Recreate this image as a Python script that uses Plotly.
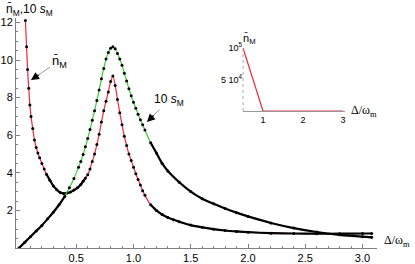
import numpy as np
import plotly.graph_objects as go

# ---------------- data ----------------
delta_n = [0.056, 0.066, 0.075, 0.085, 0.095, 0.105, 0.12, 0.135, 0.15, 0.165,
           0.18, 0.20, 0.22, 0.24, 0.27, 0.30, 0.33, 0.36, 0.39, 0.42,
           0.45, 0.48, 0.51, 0.54, 0.56, 0.58, 0.60, 0.62, 0.64, 0.66,
           0.68, 0.70, 0.72, 0.74, 0.76, 0.78, 0.80, 0.82, 0.84, 0.86,
           0.88, 0.90, 0.92, 0.94, 0.96, 0.98, 1.00, 1.02, 1.04, 1.06,
           1.08, 1.10, 1.15, 1.20, 1.25, 1.30, 1.35, 1.40, 1.50, 1.60,
           1.70, 1.80, 1.90, 2.00, 2.20, 2.40, 2.60, 2.80, 3.00, 3.08]
n_M = [12.1, 10.7, 9.5, 8.5, 7.6, 7.0, 6.35, 5.75, 5.35, 5.05,
       4.8, 4.5, 4.2, 3.92, 3.6, 3.3, 3.1, 2.95, 2.9, 2.92,
       2.98, 3.08, 3.2, 3.38, 3.55, 3.72, 3.9, 4.2, 4.6, 5.0,
       5.5, 6.05, 6.7, 7.3, 7.8, 8.3, 8.85, 9.15, 8.65, 7.9,
       7.2, 6.55, 5.95, 5.45, 5.0, 4.65, 4.3, 3.95, 3.65, 3.35,
       3.05, 2.8, 2.3, 2.0, 1.78, 1.62, 1.5, 1.4, 1.22, 1.1,
       1.0, 0.93, 0.88, 0.84, 0.79, 0.77, 0.76, 0.76, 0.77, 0.77]

delta_s = [0.0, 0.05, 0.10, 0.15, 0.20, 0.25, 0.30, 0.35, 0.40, 0.44,
           0.48, 0.52, 0.54, 0.56, 0.58, 0.60, 0.62, 0.64, 0.66, 0.68,
           0.70, 0.72, 0.74, 0.76, 0.78, 0.80, 0.82, 0.84, 0.86, 0.88,
           0.90, 0.92, 0.94, 0.96, 0.98, 1.00, 1.02, 1.04, 1.06, 1.08,
           1.10, 1.15, 1.20, 1.25, 1.30, 1.40, 1.50, 1.60, 1.70, 1.80,
           1.90, 2.00, 2.20, 2.40, 2.60, 2.80, 3.00, 3.08]
s10_M = [0.0, 0.3, 0.6, 0.9, 1.2, 1.55, 1.9, 2.3, 2.75, 3.2,
         3.7, 4.3, 4.6, 4.98, 5.38, 5.82, 6.3, 6.8, 7.3, 7.85,
         8.4, 9.0, 9.55, 10.05, 10.4, 10.62, 10.7, 10.6, 10.35, 10.05,
         9.72, 9.3, 8.88, 8.47, 8.1, 7.75, 7.43, 7.12, 6.82, 6.55,
         6.27, 5.6, 5.05, 4.5, 4.1, 3.5, 3.0, 2.62, 2.35, 2.1,
         1.88, 1.68, 1.33, 1.06, 0.85, 0.7, 0.6, 0.57]

# inset
delta_inset = [0.5, 1.0, 3.0]
n_inset = [100000, 0, 0]

x_ticks = [0.5, 1.0, 1.5, 2.0, 2.5, 3.0]
x_ticklabels = ["0.5", "1.0", "1.5", "2.0", "2.5", "3.0"]
y_ticks = [2, 4, 6, 8, 10, 12]
y_ticklabels = ["2", "4", "6", "8", "10", "12"]
inset_xticks = [1, 2, 3]
inset_yticks = [50000, 100000]
inset_yticklabels = ["5 10<sup>4</sup>", "10<sup>5</sup>"]

# ---------------- figure ----------------
W, H = 415, 264
L, R, T, B = 16, 38, 18, 16
PW, PH = W - L - R, H - T - B


def px_x(p):
    return (p - L) / PW


def px_y(p):
    return (H - B - p) / PH


RED = "#f0283c"
GREEN = "#3ccc3c"
AXC = "#808080"

fig = go.Figure()


def add_series(xs, ys, color, dense_mask):
    xs = np.asarray(xs)
    ys = np.asarray(ys, dtype=float)
    fig.add_trace(go.Scatter(x=xs, y=ys, mode="lines",
                             line=dict(color=color, width=1.2, shape="spline", smoothing=0.7),
                             hoverinfo="skip"))
    yb = [v if m else None for v, m in zip(ys, dense_mask)]
    fig.add_trace(go.Scatter(x=xs, y=yb, mode="lines", connectgaps=False,
                             line=dict(color="black", width=2.2, shape="spline", smoothing=0.7),
                             hoverinfo="skip"))
    fig.add_trace(go.Scatter(x=xs, y=ys, mode="markers",
                             marker=dict(color="black", size=3, symbol="circle"),
                             hoverinfo="skip"))


dn = np.asarray(delta_n)
ds = np.asarray(delta_s)
add_series(delta_n, n_M, RED, ((dn >= 0.24) & (dn <= 0.58)) | (dn >= 1.12))
add_series(delta_s, s10_M, GREEN, (ds <= 0.42) | (ds >= 1.15))

fig.add_trace(go.Scatter(x=delta_inset, y=n_inset, mode="lines",
                         line=dict(color=RED, width=1.2),
                         xaxis="x2", yaxis="y2", hoverinfo="skip"))

tickfont = dict(family="Liberation Sans", size=11, color="black")
x0 = 19.0
xs_per = 114.5
fig.update_layout(
    width=W, height=H,
    margin=dict(l=L, r=R, t=T, b=B, autoexpand=False),
    paper_bgcolor="white", plot_bgcolor="white",
    showlegend=False,
    xaxis=dict(range=[(L - x0) / xs_per, (W - R - x0) / xs_per], automargin=False,
               showline=True, linecolor=AXC, linewidth=1,
               ticks="inside", ticklen=4, tickcolor=AXC, tickwidth=1,
               tickvals=x_ticks, ticktext=x_ticklabels, tickfont=tickfont,
               minor=dict(ticks="inside", ticklen=2, tickcolor=AXC,
                          tickmode="array", tickvals=[round(0.1 * i, 2) for i in range(1, 31)]),
               showgrid=False, zeroline=False),
    yaxis=dict(range=[0, (H - B - T) / 18.8], automargin=False,
               showline=True, linecolor=AXC, linewidth=1,
               ticks="inside", ticklen=4, tickcolor=AXC, tickwidth=1,
               tickvals=y_ticks, ticktext=y_ticklabels, tickfont=tickfont,
               minor=dict(ticks="inside", ticklen=2, tickcolor=AXC,
                          tickmode="array", tickvals=[0.5 * i for i in range(1, 25)]),
               showgrid=False, zeroline=False),
    xaxis2=dict(domain=[px_x(243), px_x(345)], range=[0.5, 3.05], anchor="y2", automargin=False,
                showline=True, linecolor="#999999", linewidth=1, ticks="",
                tickvals=inset_xticks, tickfont=dict(family="Liberation Sans", size=9, color="black"),
                showgrid=False, zeroline=False),
    yaxis2=dict(domain=[px_y(111), px_y(46)], range=[0, 103200], anchor="x2", automargin=False,
                showline=False, ticks="",
                tickvals=inset_yticks, ticktext=inset_yticklabels,
                tickfont=dict(family="Liberation Sans", size=9, color="black"),
                showgrid=False, zeroline=False),
    shapes=[dict(type="line", xref="x2 domain", yref="y2 domain", x0=0, x1=0, y0=0, y1=1,
                 line=dict(color="#aaaaaa", width=1, dash="dot"))],
)

ann = []
# axis titles
ann.append(dict(xref="paper", yref="paper", x=px_x(4), y=px_y(10), xanchor="left", yanchor="middle",
                text="n\u0304<sub>M</sub>,10 <i>s</i><sub>M</sub>", showarrow=False,
                font=dict(family="Liberation Sans", size=12, color="black")))
ann.append(dict(xref="paper", yref="paper", x=px_x(412), y=px_y(241), xanchor="right", yanchor="middle",
                text="\u0394/\u03c9<sub>m</sub>", showarrow=False,
                font=dict(family="Liberation Serif", size=12, color="black")))

# n̄_M label + arrow
tipx, tipy = (31 - x0) / xs_per, (H - B - 80) / 18.8
ann.append(dict(x=tipx, y=tipy, xref="x", yref="y", ax=28, ay=-19,
                text="n\u0304<sub>M</sub>", showarrow=True, arrowhead=0, arrowwidth=1,
                arrowcolor="#9a9a9a", font=dict(family="Liberation Sans", size=13, color="black")))
ann.append(dict(x=tipx, y=tipy, xref="x", yref="y", ax=9, ay=-6, text="",
                showarrow=True, arrowhead=2, arrowsize=1, arrowwidth=1.6, arrowcolor="black"))

# 10 s_M label + arrow
tipx2, tipy2 = (147 - x0) / xs_per, (H - B - 122) / 18.8
ann.append(dict(x=tipx2, y=tipy2, xref="x", yref="y", ax=22, ay=-22,
                text="10 <i>s</i><sub>M</sub>", showarrow=True, arrowhead=0, arrowwidth=1,
                arrowcolor="#9a9a9a", font=dict(family="Liberation Sans", size=12, color="black")))
ann.append(dict(x=tipx2, y=tipy2, xref="x", yref="y", ax=8, ay=-8, text="",
                showarrow=True, arrowhead=2, arrowsize=1, arrowwidth=1.6, arrowcolor="black"))

# inset labels
ann.append(dict(xref="paper", yref="paper", x=px_x(241), y=px_y(39), xanchor="left", yanchor="middle",
                text="n\u0304<sub>M</sub>", showarrow=False,
                font=dict(family="Liberation Sans", size=11, color="black")))
ann.append(dict(xref="paper", yref="paper", x=px_x(349), y=px_y(111), xanchor="left", yanchor="middle",
                text="\u0394/\u03c9<sub>m</sub>", showarrow=False,
                font=dict(family="Liberation Serif", size=12, color="black")))

fig.update_layout(annotations=ann)
fig.write_html("out.html", config={"displayModeBar": False},
               post_script="document.body.style.margin='0';document.body.style.overflow='hidden';")
